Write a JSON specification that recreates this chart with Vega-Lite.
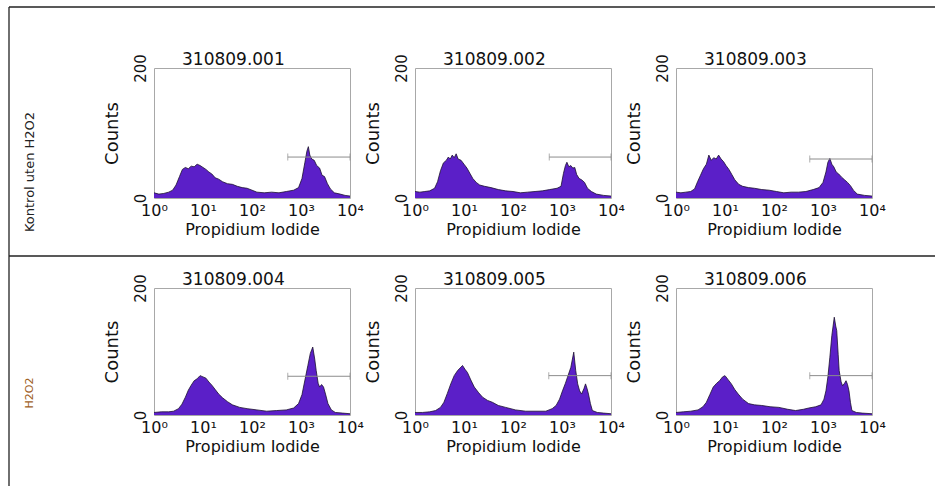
{
  "$schema": "https://vega.github.io/schema/vega-lite/v6.json",
  "padding": {"left": 8, "top": 6, "right": 0, "bottom": 0},
  "background": "white",
  "datasets": {
    "hist": [
      {"sample": "310809.001", "pi_log10": 0.00, "counts": 8}, {"sample": "310809.001", "pi_log10": 0.10, "counts": 6}, {"sample": "310809.001", "pi_log10": 0.20, "counts": 7}, {"sample": "310809.001", "pi_log10": 0.30, "counts": 9}, {"sample": "310809.001", "pi_log10": 0.38, "counts": 12}, {"sample": "310809.001", "pi_log10": 0.45, "counts": 20}, {"sample": "310809.001", "pi_log10": 0.52, "counts": 33}, {"sample": "310809.001", "pi_log10": 0.58, "counts": 44}, {"sample": "310809.001", "pi_log10": 0.64, "counts": 47}, {"sample": "310809.001", "pi_log10": 0.70, "counts": 45}, {"sample": "310809.001", "pi_log10": 0.76, "counts": 49}, {"sample": "310809.001", "pi_log10": 0.82, "counts": 48}, {"sample": "310809.001", "pi_log10": 0.88, "counts": 52}, {"sample": "310809.001", "pi_log10": 0.94, "counts": 50}, {"sample": "310809.001", "pi_log10": 1.00, "counts": 47}, {"sample": "310809.001", "pi_log10": 1.06, "counts": 44}, {"sample": "310809.001", "pi_log10": 1.12, "counts": 40}, {"sample": "310809.001", "pi_log10": 1.18, "counts": 37}, {"sample": "310809.001", "pi_log10": 1.25, "counts": 31}, {"sample": "310809.001", "pi_log10": 1.32, "counts": 29}, {"sample": "310809.001", "pi_log10": 1.40, "counts": 25}, {"sample": "310809.001", "pi_log10": 1.50, "counts": 22}, {"sample": "310809.001", "pi_log10": 1.60, "counts": 21}, {"sample": "310809.001", "pi_log10": 1.70, "counts": 18}, {"sample": "310809.001", "pi_log10": 1.80, "counts": 16}, {"sample": "310809.001", "pi_log10": 1.90, "counts": 15}, {"sample": "310809.001", "pi_log10": 2.00, "counts": 12}, {"sample": "310809.001", "pi_log10": 2.10, "counts": 9}, {"sample": "310809.001", "pi_log10": 2.25, "counts": 8}, {"sample": "310809.001", "pi_log10": 2.40, "counts": 9}, {"sample": "310809.001", "pi_log10": 2.55, "counts": 8}, {"sample": "310809.001", "pi_log10": 2.70, "counts": 10}, {"sample": "310809.001", "pi_log10": 2.85, "counts": 12}, {"sample": "310809.001", "pi_log10": 2.95, "counts": 16}, {"sample": "310809.001", "pi_log10": 3.02, "counts": 30}, {"sample": "310809.001", "pi_log10": 3.08, "counts": 55}, {"sample": "310809.001", "pi_log10": 3.12, "counts": 72}, {"sample": "310809.001", "pi_log10": 3.15, "counts": 79}, {"sample": "310809.001", "pi_log10": 3.18, "counts": 66}, {"sample": "310809.001", "pi_log10": 3.22, "counts": 60}, {"sample": "310809.001", "pi_log10": 3.27, "counts": 58}, {"sample": "310809.001", "pi_log10": 3.32, "counts": 50}, {"sample": "310809.001", "pi_log10": 3.38, "counts": 46}, {"sample": "310809.001", "pi_log10": 3.43, "counts": 35}, {"sample": "310809.001", "pi_log10": 3.48, "counts": 33}, {"sample": "310809.001", "pi_log10": 3.54, "counts": 22}, {"sample": "310809.001", "pi_log10": 3.60, "counts": 14}, {"sample": "310809.001", "pi_log10": 3.68, "counts": 8}, {"sample": "310809.001", "pi_log10": 3.80, "counts": 6}, {"sample": "310809.001", "pi_log10": 3.90, "counts": 4}, {"sample": "310809.001", "pi_log10": 4.00, "counts": 3},

      {"sample": "310809.002", "pi_log10": 0.00, "counts": 10}, {"sample": "310809.002", "pi_log10": 0.10, "counts": 9}, {"sample": "310809.002", "pi_log10": 0.20, "counts": 10}, {"sample": "310809.002", "pi_log10": 0.30, "counts": 11}, {"sample": "310809.002", "pi_log10": 0.40, "counts": 15}, {"sample": "310809.002", "pi_log10": 0.46, "counts": 25}, {"sample": "310809.002", "pi_log10": 0.52, "counts": 42}, {"sample": "310809.002", "pi_log10": 0.58, "counts": 54}, {"sample": "310809.002", "pi_log10": 0.64, "counts": 58}, {"sample": "310809.002", "pi_log10": 0.68, "counts": 63}, {"sample": "310809.002", "pi_log10": 0.72, "counts": 60}, {"sample": "310809.002", "pi_log10": 0.76, "counts": 66}, {"sample": "310809.002", "pi_log10": 0.80, "counts": 62}, {"sample": "310809.002", "pi_log10": 0.84, "counts": 68}, {"sample": "310809.002", "pi_log10": 0.88, "counts": 60}, {"sample": "310809.002", "pi_log10": 0.94, "counts": 58}, {"sample": "310809.002", "pi_log10": 1.00, "counts": 52}, {"sample": "310809.002", "pi_log10": 1.06, "counts": 46}, {"sample": "310809.002", "pi_log10": 1.12, "counts": 38}, {"sample": "310809.002", "pi_log10": 1.18, "counts": 30}, {"sample": "310809.002", "pi_log10": 1.25, "counts": 24}, {"sample": "310809.002", "pi_log10": 1.32, "counts": 20}, {"sample": "310809.002", "pi_log10": 1.42, "counts": 18}, {"sample": "310809.002", "pi_log10": 1.55, "counts": 16}, {"sample": "310809.002", "pi_log10": 1.70, "counts": 13}, {"sample": "310809.002", "pi_log10": 1.85, "counts": 11}, {"sample": "310809.002", "pi_log10": 2.00, "counts": 10}, {"sample": "310809.002", "pi_log10": 2.15, "counts": 8}, {"sample": "310809.002", "pi_log10": 2.30, "counts": 9}, {"sample": "310809.002", "pi_log10": 2.45, "counts": 10}, {"sample": "310809.002", "pi_log10": 2.60, "counts": 11}, {"sample": "310809.002", "pi_log10": 2.75, "counts": 13}, {"sample": "310809.002", "pi_log10": 2.90, "counts": 15}, {"sample": "310809.002", "pi_log10": 2.98, "counts": 18}, {"sample": "310809.002", "pi_log10": 3.03, "counts": 38}, {"sample": "310809.002", "pi_log10": 3.07, "counts": 50}, {"sample": "310809.002", "pi_log10": 3.10, "counts": 55}, {"sample": "310809.002", "pi_log10": 3.14, "counts": 48}, {"sample": "310809.002", "pi_log10": 3.18, "counts": 50}, {"sample": "310809.002", "pi_log10": 3.22, "counts": 46}, {"sample": "310809.002", "pi_log10": 3.26, "counts": 47}, {"sample": "310809.002", "pi_log10": 3.30, "counts": 36}, {"sample": "310809.002", "pi_log10": 3.35, "counts": 30}, {"sample": "310809.002", "pi_log10": 3.40, "counts": 28}, {"sample": "310809.002", "pi_log10": 3.46, "counts": 24}, {"sample": "310809.002", "pi_log10": 3.52, "counts": 15}, {"sample": "310809.002", "pi_log10": 3.60, "counts": 10}, {"sample": "310809.002", "pi_log10": 3.70, "counts": 6}, {"sample": "310809.002", "pi_log10": 3.85, "counts": 4}, {"sample": "310809.002", "pi_log10": 4.00, "counts": 3},

      {"sample": "310809.003", "pi_log10": 0.00, "counts": 9}, {"sample": "310809.003", "pi_log10": 0.10, "counts": 8}, {"sample": "310809.003", "pi_log10": 0.20, "counts": 9}, {"sample": "310809.003", "pi_log10": 0.30, "counts": 10}, {"sample": "310809.003", "pi_log10": 0.38, "counts": 14}, {"sample": "310809.003", "pi_log10": 0.44, "counts": 25}, {"sample": "310809.003", "pi_log10": 0.50, "counts": 35}, {"sample": "310809.003", "pi_log10": 0.56, "counts": 45}, {"sample": "310809.003", "pi_log10": 0.62, "counts": 52}, {"sample": "310809.003", "pi_log10": 0.67, "counts": 66}, {"sample": "310809.003", "pi_log10": 0.72, "counts": 58}, {"sample": "310809.003", "pi_log10": 0.77, "counts": 62}, {"sample": "310809.003", "pi_log10": 0.82, "counts": 60}, {"sample": "310809.003", "pi_log10": 0.87, "counts": 66}, {"sample": "310809.003", "pi_log10": 0.92, "counts": 60}, {"sample": "310809.003", "pi_log10": 0.97, "counts": 56}, {"sample": "310809.003", "pi_log10": 1.02, "counts": 50}, {"sample": "310809.003", "pi_log10": 1.08, "counts": 44}, {"sample": "310809.003", "pi_log10": 1.14, "counts": 36}, {"sample": "310809.003", "pi_log10": 1.20, "counts": 28}, {"sample": "310809.003", "pi_log10": 1.28, "counts": 21}, {"sample": "310809.003", "pi_log10": 1.36, "counts": 18}, {"sample": "310809.003", "pi_log10": 1.48, "counts": 16}, {"sample": "310809.003", "pi_log10": 1.60, "counts": 15}, {"sample": "310809.003", "pi_log10": 1.75, "counts": 13}, {"sample": "310809.003", "pi_log10": 1.90, "counts": 12}, {"sample": "310809.003", "pi_log10": 2.05, "counts": 10}, {"sample": "310809.003", "pi_log10": 2.20, "counts": 8}, {"sample": "310809.003", "pi_log10": 2.35, "counts": 9}, {"sample": "310809.003", "pi_log10": 2.50, "counts": 9}, {"sample": "310809.003", "pi_log10": 2.65, "counts": 10}, {"sample": "310809.003", "pi_log10": 2.80, "counts": 13}, {"sample": "310809.003", "pi_log10": 2.92, "counts": 16}, {"sample": "310809.003", "pi_log10": 3.00, "counts": 24}, {"sample": "310809.003", "pi_log10": 3.06, "counts": 40}, {"sample": "310809.003", "pi_log10": 3.10, "counts": 55}, {"sample": "310809.003", "pi_log10": 3.14, "counts": 61}, {"sample": "310809.003", "pi_log10": 3.18, "counts": 52}, {"sample": "310809.003", "pi_log10": 3.22, "counts": 48}, {"sample": "310809.003", "pi_log10": 3.27, "counts": 40}, {"sample": "310809.003", "pi_log10": 3.32, "counts": 37}, {"sample": "310809.003", "pi_log10": 3.38, "counts": 32}, {"sample": "310809.003", "pi_log10": 3.44, "counts": 28}, {"sample": "310809.003", "pi_log10": 3.50, "counts": 24}, {"sample": "310809.003", "pi_log10": 3.56, "counts": 19}, {"sample": "310809.003", "pi_log10": 3.62, "counts": 12}, {"sample": "310809.003", "pi_log10": 3.70, "counts": 6}, {"sample": "310809.003", "pi_log10": 3.85, "counts": 4}, {"sample": "310809.003", "pi_log10": 4.00, "counts": 3},

      {"sample": "310809.004", "pi_log10": 0.00, "counts": 4}, {"sample": "310809.004", "pi_log10": 0.15, "counts": 5}, {"sample": "310809.004", "pi_log10": 0.30, "counts": 5}, {"sample": "310809.004", "pi_log10": 0.40, "counts": 6}, {"sample": "310809.004", "pi_log10": 0.50, "counts": 10}, {"sample": "310809.004", "pi_log10": 0.57, "counts": 17}, {"sample": "310809.004", "pi_log10": 0.64, "counts": 28}, {"sample": "310809.004", "pi_log10": 0.70, "counts": 39}, {"sample": "310809.004", "pi_log10": 0.76, "counts": 47}, {"sample": "310809.004", "pi_log10": 0.82, "counts": 54}, {"sample": "310809.004", "pi_log10": 0.88, "counts": 57}, {"sample": "310809.004", "pi_log10": 0.94, "counts": 62}, {"sample": "310809.004", "pi_log10": 1.00, "counts": 60}, {"sample": "310809.004", "pi_log10": 1.06, "counts": 58}, {"sample": "310809.004", "pi_log10": 1.12, "counts": 52}, {"sample": "310809.004", "pi_log10": 1.18, "counts": 47}, {"sample": "310809.004", "pi_log10": 1.25, "counts": 40}, {"sample": "310809.004", "pi_log10": 1.32, "counts": 33}, {"sample": "310809.004", "pi_log10": 1.40, "counts": 27}, {"sample": "310809.004", "pi_log10": 1.50, "counts": 21}, {"sample": "310809.004", "pi_log10": 1.60, "counts": 16}, {"sample": "310809.004", "pi_log10": 1.75, "counts": 12}, {"sample": "310809.004", "pi_log10": 1.90, "counts": 10}, {"sample": "310809.004", "pi_log10": 2.10, "counts": 8}, {"sample": "310809.004", "pi_log10": 2.30, "counts": 6}, {"sample": "310809.004", "pi_log10": 2.50, "counts": 7}, {"sample": "310809.004", "pi_log10": 2.70, "counts": 8}, {"sample": "310809.004", "pi_log10": 2.85, "counts": 11}, {"sample": "310809.004", "pi_log10": 2.95, "counts": 18}, {"sample": "310809.004", "pi_log10": 3.02, "counts": 32}, {"sample": "310809.004", "pi_log10": 3.08, "counts": 55}, {"sample": "310809.004", "pi_log10": 3.14, "counts": 78}, {"sample": "310809.004", "pi_log10": 3.19, "counts": 97}, {"sample": "310809.004", "pi_log10": 3.24, "counts": 107}, {"sample": "310809.004", "pi_log10": 3.28, "counts": 88}, {"sample": "310809.004", "pi_log10": 3.31, "counts": 70}, {"sample": "310809.004", "pi_log10": 3.35, "counts": 50}, {"sample": "310809.004", "pi_log10": 3.38, "counts": 44}, {"sample": "310809.004", "pi_log10": 3.42, "counts": 48}, {"sample": "310809.004", "pi_log10": 3.46, "counts": 44}, {"sample": "310809.004", "pi_log10": 3.50, "counts": 33}, {"sample": "310809.004", "pi_log10": 3.55, "counts": 18}, {"sample": "310809.004", "pi_log10": 3.62, "counts": 8}, {"sample": "310809.004", "pi_log10": 3.70, "counts": 4}, {"sample": "310809.004", "pi_log10": 3.85, "counts": 3}, {"sample": "310809.004", "pi_log10": 4.00, "counts": 2},

      {"sample": "310809.005", "pi_log10": 0.00, "counts": 4}, {"sample": "310809.005", "pi_log10": 0.15, "counts": 4}, {"sample": "310809.005", "pi_log10": 0.30, "counts": 5}, {"sample": "310809.005", "pi_log10": 0.42, "counts": 7}, {"sample": "310809.005", "pi_log10": 0.52, "counts": 12}, {"sample": "310809.005", "pi_log10": 0.59, "counts": 20}, {"sample": "310809.005", "pi_log10": 0.66, "counts": 34}, {"sample": "310809.005", "pi_log10": 0.73, "counts": 49}, {"sample": "310809.005", "pi_log10": 0.80, "counts": 62}, {"sample": "310809.005", "pi_log10": 0.87, "counts": 70}, {"sample": "310809.005", "pi_log10": 0.92, "counts": 74}, {"sample": "310809.005", "pi_log10": 0.97, "counts": 78}, {"sample": "310809.005", "pi_log10": 1.02, "counts": 72}, {"sample": "310809.005", "pi_log10": 1.07, "counts": 67}, {"sample": "310809.005", "pi_log10": 1.14, "counts": 55}, {"sample": "310809.005", "pi_log10": 1.21, "counts": 44}, {"sample": "310809.005", "pi_log10": 1.30, "counts": 35}, {"sample": "310809.005", "pi_log10": 1.38, "counts": 28}, {"sample": "310809.005", "pi_log10": 1.48, "counts": 23}, {"sample": "310809.005", "pi_log10": 1.58, "counts": 20}, {"sample": "310809.005", "pi_log10": 1.70, "counts": 15}, {"sample": "310809.005", "pi_log10": 1.85, "counts": 12}, {"sample": "310809.005", "pi_log10": 2.05, "counts": 8}, {"sample": "310809.005", "pi_log10": 2.26, "counts": 6}, {"sample": "310809.005", "pi_log10": 2.45, "counts": 6}, {"sample": "310809.005", "pi_log10": 2.67, "counts": 6}, {"sample": "310809.005", "pi_log10": 2.80, "counts": 10}, {"sample": "310809.005", "pi_log10": 2.88, "counts": 15}, {"sample": "310809.005", "pi_log10": 2.95, "counts": 25}, {"sample": "310809.005", "pi_log10": 3.01, "counts": 38}, {"sample": "310809.005", "pi_log10": 3.07, "counts": 50}, {"sample": "310809.005", "pi_log10": 3.11, "counts": 59}, {"sample": "310809.005", "pi_log10": 3.18, "counts": 75}, {"sample": "310809.005", "pi_log10": 3.24, "counts": 99}, {"sample": "310809.005", "pi_log10": 3.28, "counts": 70}, {"sample": "310809.005", "pi_log10": 3.32, "counts": 49}, {"sample": "310809.005", "pi_log10": 3.36, "counts": 38}, {"sample": "310809.005", "pi_log10": 3.40, "counts": 33}, {"sample": "310809.005", "pi_log10": 3.45, "counts": 42}, {"sample": "310809.005", "pi_log10": 3.48, "counts": 49}, {"sample": "310809.005", "pi_log10": 3.51, "counts": 42}, {"sample": "310809.005", "pi_log10": 3.54, "counts": 33}, {"sample": "310809.005", "pi_log10": 3.58, "counts": 18}, {"sample": "310809.005", "pi_log10": 3.62, "counts": 7}, {"sample": "310809.005", "pi_log10": 3.72, "counts": 4}, {"sample": "310809.005", "pi_log10": 3.85, "counts": 3}, {"sample": "310809.005", "pi_log10": 4.00, "counts": 2},

      {"sample": "310809.006", "pi_log10": 0.00, "counts": 4}, {"sample": "310809.006", "pi_log10": 0.15, "counts": 5}, {"sample": "310809.006", "pi_log10": 0.30, "counts": 6}, {"sample": "310809.006", "pi_log10": 0.45, "counts": 8}, {"sample": "310809.006", "pi_log10": 0.55, "counts": 13}, {"sample": "310809.006", "pi_log10": 0.62, "counts": 20}, {"sample": "310809.006", "pi_log10": 0.69, "counts": 32}, {"sample": "310809.006", "pi_log10": 0.76, "counts": 44}, {"sample": "310809.006", "pi_log10": 0.83, "counts": 50}, {"sample": "310809.006", "pi_log10": 0.89, "counts": 54}, {"sample": "310809.006", "pi_log10": 0.95, "counts": 60}, {"sample": "310809.006", "pi_log10": 1.00, "counts": 62}, {"sample": "310809.006", "pi_log10": 1.06, "counts": 56}, {"sample": "310809.006", "pi_log10": 1.13, "counts": 49}, {"sample": "310809.006", "pi_log10": 1.20, "counts": 40}, {"sample": "310809.006", "pi_log10": 1.27, "counts": 33}, {"sample": "310809.006", "pi_log10": 1.36, "counts": 25}, {"sample": "310809.006", "pi_log10": 1.48, "counts": 18}, {"sample": "310809.006", "pi_log10": 1.60, "counts": 16}, {"sample": "310809.006", "pi_log10": 1.75, "counts": 15}, {"sample": "310809.006", "pi_log10": 1.92, "counts": 13}, {"sample": "310809.006", "pi_log10": 2.10, "counts": 12}, {"sample": "310809.006", "pi_log10": 2.28, "counts": 9}, {"sample": "310809.006", "pi_log10": 2.44, "counts": 7}, {"sample": "310809.006", "pi_log10": 2.60, "counts": 9}, {"sample": "310809.006", "pi_log10": 2.71, "counts": 11}, {"sample": "310809.006", "pi_log10": 2.85, "counts": 13}, {"sample": "310809.006", "pi_log10": 2.96, "counts": 16}, {"sample": "310809.006", "pi_log10": 3.02, "counts": 25}, {"sample": "310809.006", "pi_log10": 3.06, "counts": 38}, {"sample": "310809.006", "pi_log10": 3.10, "counts": 60}, {"sample": "310809.006", "pi_log10": 3.14, "counts": 91}, {"sample": "310809.006", "pi_log10": 3.18, "counts": 125}, {"sample": "310809.006", "pi_log10": 3.23, "counts": 154}, {"sample": "310809.006", "pi_log10": 3.26, "counts": 140}, {"sample": "310809.006", "pi_log10": 3.28, "counts": 133}, {"sample": "310809.006", "pi_log10": 3.31, "counts": 95}, {"sample": "310809.006", "pi_log10": 3.33, "counts": 70}, {"sample": "310809.006", "pi_log10": 3.37, "counts": 52}, {"sample": "310809.006", "pi_log10": 3.40, "counts": 46}, {"sample": "310809.006", "pi_log10": 3.44, "counts": 50}, {"sample": "310809.006", "pi_log10": 3.47, "counts": 54}, {"sample": "310809.006", "pi_log10": 3.50, "counts": 48}, {"sample": "310809.006", "pi_log10": 3.53, "counts": 38}, {"sample": "310809.006", "pi_log10": 3.56, "counts": 20}, {"sample": "310809.006", "pi_log10": 3.59, "counts": 7}, {"sample": "310809.006", "pi_log10": 3.68, "counts": 4}, {"sample": "310809.006", "pi_log10": 3.80, "counts": 3}, {"sample": "310809.006", "pi_log10": 4.00, "counts": 2}
    ],
    "gates": [
      {"sample": "310809.001", "gate_start": 2.73, "gate_end": 4.0, "gate_level": 63},
      {"sample": "310809.002", "gate_start": 2.74, "gate_end": 4.0, "gate_level": 63},
      {"sample": "310809.003", "gate_start": 2.73, "gate_end": 4.0, "gate_level": 60},
      {"sample": "310809.004", "gate_start": 2.73, "gate_end": 4.0, "gate_level": 61},
      {"sample": "310809.005", "gate_start": 2.73, "gate_end": 4.0, "gate_level": 62},
      {"sample": "310809.006", "gate_start": 2.73, "gate_end": 4.0, "gate_level": 62}
    ]
  },
  "columns": 4,
  "align": "each",
  "bounds": "flush",
  "spacing": {"row": 90, "column": 65},
  "concat": [
    {
      "width": 80, "height": 130, "view": {"stroke": null},
      "data": {"values": [{"group": "Kontrol uten H2O2"}]},
      "layer": [
        {"mark": {"type": "text", "angle": 270, "fontSize": 13, "font": "DejaVu Sans", "color": "#222222", "align": "center", "baseline": "middle"},
         "encoding": {"text": {"field": "group"}, "x": {"datum": 21, "type": "quantitative", "scale": {"domain": [0, 80], "nice": false, "zero": false}, "axis": null}, "y": {"datum": 104, "type": "quantitative", "scale": {"domain": [0, 130], "reverse": true, "nice": false, "zero": false}, "axis": null}}},
        {"mark": {"type": "rule", "color": "#222222", "strokeWidth": 1.3},
         "encoding": {"x": {"datum": 0, "type": "quantitative", "scale": {"domain": [0, 80], "nice": false, "zero": false}, "axis": null}, "x2": {"datum": 927}, "y": {"datum": -61, "type": "quantitative", "scale": {"domain": [0, 130], "reverse": true, "nice": false, "zero": false}, "axis": null}}},
        {"mark": {"type": "rule", "color": "#222222", "strokeWidth": 1.3},
         "encoding": {"x": {"datum": 0, "type": "quantitative", "scale": {"domain": [0, 80], "nice": false, "zero": false}, "axis": null}, "x2": {"datum": 927}, "y": {"datum": 188, "type": "quantitative", "scale": {"domain": [0, 130], "reverse": true, "nice": false, "zero": false}, "axis": null}}},
        {"mark": {"type": "rule", "color": "#222222", "strokeWidth": 1.3},
         "encoding": {"x": {"datum": 0, "type": "quantitative", "scale": {"domain": [0, 80], "nice": false, "zero": false}, "axis": null}, "y": {"datum": -61, "type": "quantitative", "scale": {"domain": [0, 130], "reverse": true, "nice": false, "zero": false}, "axis": null}, "y2": {"datum": 419}}}
      ]
    },
    {
      "width": 196, "height": 130, "title": "310809.001",
      "layer": [
        {"data": {"name": "hist"}, "transform": [{"filter": "datum.sample == '310809.001'"}], "mark": {"type": "area", "color": "#5b1fc8", "opacity": 1, "line": {"color": "#1c1030", "strokeWidth": 0.8}},
         "encoding": {"x": {"field": "pi_log10", "type": "quantitative", "title": "Propidium Iodide", "scale": {"domain": [0, 4]}, "axis": {"values": [0, 1, 2, 3, 4], "labelExpr": "'10' + ['⁰','¹','²','³','⁴'][datum.value]"}}, "y": {"field": "counts", "type": "quantitative", "title": "Counts", "scale": {"domain": [0, 200]}, "axis": {"values": [0, 200]}}}},
        {"data": {"name": "gates"}, "transform": [{"filter": "datum.sample == '310809.001'"}], "mark": {"type": "rule", "color": "#8c8c8c", "strokeWidth": 1},
         "encoding": {"x": {"field": "gate_start", "type": "quantitative", "title": "Propidium Iodide"}, "x2": {"field": "gate_end"}, "y": {"field": "gate_level", "type": "quantitative", "title": "Counts"}}},
        {"data": {"name": "gates"}, "transform": [{"filter": "datum.sample == '310809.001'"}], "mark": {"type": "tick", "orient": "vertical", "size": 7, "color": "#8c8c8c", "thickness": 1},
         "encoding": {"x": {"field": "gate_start", "type": "quantitative", "title": "Propidium Iodide"}, "y": {"field": "gate_level", "type": "quantitative", "title": "Counts"}}},
        {"data": {"name": "gates"}, "transform": [{"filter": "datum.sample == '310809.001'"}], "mark": {"type": "tick", "orient": "vertical", "size": 7, "color": "#8c8c8c", "thickness": 1},
         "encoding": {"x": {"field": "gate_end", "type": "quantitative", "title": "Propidium Iodide"}, "y": {"field": "gate_level", "type": "quantitative", "title": "Counts"}}}
      ]
    },
    {
      "width": 196, "height": 130, "title": "310809.002",
      "layer": [
        {"data": {"name": "hist"}, "transform": [{"filter": "datum.sample == '310809.002'"}], "mark": {"type": "area", "color": "#5b1fc8", "opacity": 1, "line": {"color": "#1c1030", "strokeWidth": 0.8}},
         "encoding": {"x": {"field": "pi_log10", "type": "quantitative", "title": "Propidium Iodide", "scale": {"domain": [0, 4]}, "axis": {"values": [0, 1, 2, 3, 4], "labelExpr": "'10' + ['⁰','¹','²','³','⁴'][datum.value]"}}, "y": {"field": "counts", "type": "quantitative", "title": "Counts", "scale": {"domain": [0, 200]}, "axis": {"values": [0, 200]}}}},
        {"data": {"name": "gates"}, "transform": [{"filter": "datum.sample == '310809.002'"}], "mark": {"type": "rule", "color": "#8c8c8c", "strokeWidth": 1},
         "encoding": {"x": {"field": "gate_start", "type": "quantitative", "title": "Propidium Iodide"}, "x2": {"field": "gate_end"}, "y": {"field": "gate_level", "type": "quantitative", "title": "Counts"}}},
        {"data": {"name": "gates"}, "transform": [{"filter": "datum.sample == '310809.002'"}], "mark": {"type": "tick", "orient": "vertical", "size": 7, "color": "#8c8c8c", "thickness": 1},
         "encoding": {"x": {"field": "gate_start", "type": "quantitative", "title": "Propidium Iodide"}, "y": {"field": "gate_level", "type": "quantitative", "title": "Counts"}}},
        {"data": {"name": "gates"}, "transform": [{"filter": "datum.sample == '310809.002'"}], "mark": {"type": "tick", "orient": "vertical", "size": 7, "color": "#8c8c8c", "thickness": 1},
         "encoding": {"x": {"field": "gate_end", "type": "quantitative", "title": "Propidium Iodide"}, "y": {"field": "gate_level", "type": "quantitative", "title": "Counts"}}}
      ]
    },
    {
      "width": 196, "height": 130, "title": "310809.003",
      "layer": [
        {"data": {"name": "hist"}, "transform": [{"filter": "datum.sample == '310809.003'"}], "mark": {"type": "area", "color": "#5b1fc8", "opacity": 1, "line": {"color": "#1c1030", "strokeWidth": 0.8}},
         "encoding": {"x": {"field": "pi_log10", "type": "quantitative", "title": "Propidium Iodide", "scale": {"domain": [0, 4]}, "axis": {"values": [0, 1, 2, 3, 4], "labelExpr": "'10' + ['⁰','¹','²','³','⁴'][datum.value]"}}, "y": {"field": "counts", "type": "quantitative", "title": "Counts", "scale": {"domain": [0, 200]}, "axis": {"values": [0, 200]}}}},
        {"data": {"name": "gates"}, "transform": [{"filter": "datum.sample == '310809.003'"}], "mark": {"type": "rule", "color": "#8c8c8c", "strokeWidth": 1},
         "encoding": {"x": {"field": "gate_start", "type": "quantitative", "title": "Propidium Iodide"}, "x2": {"field": "gate_end"}, "y": {"field": "gate_level", "type": "quantitative", "title": "Counts"}}},
        {"data": {"name": "gates"}, "transform": [{"filter": "datum.sample == '310809.003'"}], "mark": {"type": "tick", "orient": "vertical", "size": 7, "color": "#8c8c8c", "thickness": 1},
         "encoding": {"x": {"field": "gate_start", "type": "quantitative", "title": "Propidium Iodide"}, "y": {"field": "gate_level", "type": "quantitative", "title": "Counts"}}},
        {"data": {"name": "gates"}, "transform": [{"filter": "datum.sample == '310809.003'"}], "mark": {"type": "tick", "orient": "vertical", "size": 7, "color": "#8c8c8c", "thickness": 1},
         "encoding": {"x": {"field": "gate_end", "type": "quantitative", "title": "Propidium Iodide"}, "y": {"field": "gate_level", "type": "quantitative", "title": "Counts"}}}
      ]
    },
    {
      "width": 80, "height": 127, "view": {"stroke": null},
      "data": {"values": [{"group": "H2O2"}]},
      "layer": [
        {"mark": {"type": "text", "angle": 270, "fontSize": 11, "font": "DejaVu Sans", "color": "#a0601e", "align": "center", "baseline": "middle"},
         "encoding": {"text": {"field": "group"}, "x": {"datum": 21, "type": "quantitative", "scale": {"domain": [0, 80], "nice": false, "zero": false}, "axis": null}, "y": {"datum": 105, "type": "quantitative", "scale": {"domain": [0, 127], "reverse": true, "nice": false, "zero": false}, "axis": null}}}
      ]
    },
    {
      "width": 196, "height": 127, "title": "310809.004",
      "layer": [
        {"data": {"name": "hist"}, "transform": [{"filter": "datum.sample == '310809.004'"}], "mark": {"type": "area", "color": "#5b1fc8", "opacity": 1, "line": {"color": "#1c1030", "strokeWidth": 0.8}},
         "encoding": {"x": {"field": "pi_log10", "type": "quantitative", "title": "Propidium Iodide", "scale": {"domain": [0, 4]}, "axis": {"values": [0, 1, 2, 3, 4], "labelExpr": "'10' + ['⁰','¹','²','³','⁴'][datum.value]"}}, "y": {"field": "counts", "type": "quantitative", "title": "Counts", "scale": {"domain": [0, 200]}, "axis": {"values": [0, 200]}}}},
        {"data": {"name": "gates"}, "transform": [{"filter": "datum.sample == '310809.004'"}], "mark": {"type": "rule", "color": "#8c8c8c", "strokeWidth": 1},
         "encoding": {"x": {"field": "gate_start", "type": "quantitative", "title": "Propidium Iodide"}, "x2": {"field": "gate_end"}, "y": {"field": "gate_level", "type": "quantitative", "title": "Counts"}}},
        {"data": {"name": "gates"}, "transform": [{"filter": "datum.sample == '310809.004'"}], "mark": {"type": "tick", "orient": "vertical", "size": 7, "color": "#8c8c8c", "thickness": 1},
         "encoding": {"x": {"field": "gate_start", "type": "quantitative", "title": "Propidium Iodide"}, "y": {"field": "gate_level", "type": "quantitative", "title": "Counts"}}},
        {"data": {"name": "gates"}, "transform": [{"filter": "datum.sample == '310809.004'"}], "mark": {"type": "tick", "orient": "vertical", "size": 7, "color": "#8c8c8c", "thickness": 1},
         "encoding": {"x": {"field": "gate_end", "type": "quantitative", "title": "Propidium Iodide"}, "y": {"field": "gate_level", "type": "quantitative", "title": "Counts"}}}
      ]
    },
    {
      "width": 196, "height": 127, "title": "310809.005",
      "layer": [
        {"data": {"name": "hist"}, "transform": [{"filter": "datum.sample == '310809.005'"}], "mark": {"type": "area", "color": "#5b1fc8", "opacity": 1, "line": {"color": "#1c1030", "strokeWidth": 0.8}},
         "encoding": {"x": {"field": "pi_log10", "type": "quantitative", "title": "Propidium Iodide", "scale": {"domain": [0, 4]}, "axis": {"values": [0, 1, 2, 3, 4], "labelExpr": "'10' + ['⁰','¹','²','³','⁴'][datum.value]"}}, "y": {"field": "counts", "type": "quantitative", "title": "Counts", "scale": {"domain": [0, 200]}, "axis": {"values": [0, 200]}}}},
        {"data": {"name": "gates"}, "transform": [{"filter": "datum.sample == '310809.005'"}], "mark": {"type": "rule", "color": "#8c8c8c", "strokeWidth": 1},
         "encoding": {"x": {"field": "gate_start", "type": "quantitative", "title": "Propidium Iodide"}, "x2": {"field": "gate_end"}, "y": {"field": "gate_level", "type": "quantitative", "title": "Counts"}}},
        {"data": {"name": "gates"}, "transform": [{"filter": "datum.sample == '310809.005'"}], "mark": {"type": "tick", "orient": "vertical", "size": 7, "color": "#8c8c8c", "thickness": 1},
         "encoding": {"x": {"field": "gate_start", "type": "quantitative", "title": "Propidium Iodide"}, "y": {"field": "gate_level", "type": "quantitative", "title": "Counts"}}},
        {"data": {"name": "gates"}, "transform": [{"filter": "datum.sample == '310809.005'"}], "mark": {"type": "tick", "orient": "vertical", "size": 7, "color": "#8c8c8c", "thickness": 1},
         "encoding": {"x": {"field": "gate_end", "type": "quantitative", "title": "Propidium Iodide"}, "y": {"field": "gate_level", "type": "quantitative", "title": "Counts"}}}
      ]
    },
    {
      "width": 196, "height": 127, "title": "310809.006",
      "layer": [
        {"data": {"name": "hist"}, "transform": [{"filter": "datum.sample == '310809.006'"}], "mark": {"type": "area", "color": "#5b1fc8", "opacity": 1, "line": {"color": "#1c1030", "strokeWidth": 0.8}},
         "encoding": {"x": {"field": "pi_log10", "type": "quantitative", "title": "Propidium Iodide", "scale": {"domain": [0, 4]}, "axis": {"values": [0, 1, 2, 3, 4], "labelExpr": "'10' + ['⁰','¹','²','³','⁴'][datum.value]"}}, "y": {"field": "counts", "type": "quantitative", "title": "Counts", "scale": {"domain": [0, 200]}, "axis": {"values": [0, 200]}}}},
        {"data": {"name": "gates"}, "transform": [{"filter": "datum.sample == '310809.006'"}], "mark": {"type": "rule", "color": "#8c8c8c", "strokeWidth": 1},
         "encoding": {"x": {"field": "gate_start", "type": "quantitative", "title": "Propidium Iodide"}, "x2": {"field": "gate_end"}, "y": {"field": "gate_level", "type": "quantitative", "title": "Counts"}}},
        {"data": {"name": "gates"}, "transform": [{"filter": "datum.sample == '310809.006'"}], "mark": {"type": "tick", "orient": "vertical", "size": 7, "color": "#8c8c8c", "thickness": 1},
         "encoding": {"x": {"field": "gate_start", "type": "quantitative", "title": "Propidium Iodide"}, "y": {"field": "gate_level", "type": "quantitative", "title": "Counts"}}},
        {"data": {"name": "gates"}, "transform": [{"filter": "datum.sample == '310809.006'"}], "mark": {"type": "tick", "orient": "vertical", "size": 7, "color": "#8c8c8c", "thickness": 1},
         "encoding": {"x": {"field": "gate_end", "type": "quantitative", "title": "Propidium Iodide"}, "y": {"field": "gate_level", "type": "quantitative", "title": "Counts"}}}
      ]
    }
  ],
  "config": {
    "font": "DejaVu Sans",
    "view": {"stroke": "#a8a8a8", "strokeWidth": 1},
    "title": {"anchor": "start", "frame": "group", "dx": 28, "fontSize": 17, "font": "DejaVu Sans", "fontWeight": "normal", "color": "#111111", "offset": -15},
    "axis": {"domain": false, "ticks": false, "grid": false, "labelFont": "DejaVu Sans", "titleFont": "DejaVu Sans", "labelColor": "#111111", "titleColor": "#111111", "titleFontWeight": "normal", "labelFlush": false, "labelOverlap": false},
    "axisX": {"labelFontSize": 16, "labelPadding": 4, "titleFontSize": 16, "titlePadding": 3},
    "axisY": {"labelFontSize": 15, "labelAngle": -90, "titleFontSize": 18, "titlePadding": 12, "labelPadding": 6}
  }
}
